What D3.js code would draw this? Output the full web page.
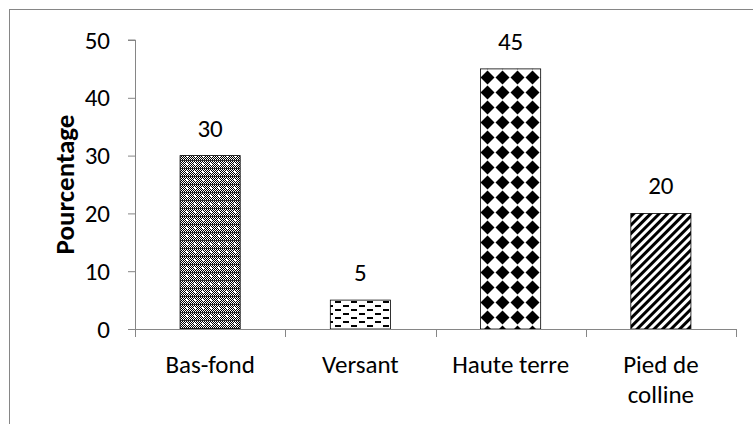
<!DOCTYPE html>
<html>
<head>
<meta charset="utf-8">
<script src="https://cdn.jsdelivr.net/npm/d3@7"></script>
<style>
  body { margin: 0; background: #fff; }
  svg text { font-family: Carlito, Lato, sans-serif; fill: #000; font-size: 25px; }
</style>
</head>
<body>
<svg id="chart"></svg>
<script>
var categories = ["Bas-fond", "Versant", "Haute terre", "Pied de colline"];
var values = [30, 5, 45, 20];
var yTicks = [0, 10, 20, 30, 40, 50];
var patterns = ["pGrid", "pDash", "pDiamond", "pStripe"];

var W = 753, H = 424;
var margin = {top: 40, right: 17, bottom: 95, left: 135};
var width = W - margin.left - margin.right;
var height = H - margin.top - margin.bottom;

var svg = d3.select("#chart").attr("width", W).attr("height", H);

// patterns
var defs = svg.append("defs");

// fine checker with white dots
var p1 = defs.append("pattern").attr("id", "pGrid").attr("patternUnits", "userSpaceOnUse")
    .attr("width", 8).attr("height", 8);
p1.append("rect").attr("width", 8).attr("height", 8).attr("fill", "#fff");
for (var i = 0; i < 8; i++) {
  for (var j = 0; j < 8; j++) {
    if ((i + j) % 2 == 0) p1.append("rect").attr("x", i).attr("y", j).attr("width", 1).attr("height", 1).attr("fill", "#000");
  }
}
p1.append("rect").attr("x", 0).attr("y", 0).attr("width", 8).attr("height", 1).attr("fill", "#333");
p1.append("rect").attr("x", 3).attr("y", 3).attr("width", 2).attr("height", 2).attr("fill", "#fff");

// dashed horizontal
var p2 = defs.append("pattern").attr("id", "pDash").attr("patternUnits", "userSpaceOnUse")
    .attr("width", 16).attr("height", 8);
p2.append("rect").attr("width", 16).attr("height", 8).attr("fill", "#fff");
p2.append("rect").attr("x", 0).attr("y", 1).attr("width", 6).attr("height", 2).attr("fill", "#000");
p2.append("rect").attr("x", 8).attr("y", 5).attr("width", 6).attr("height", 2).attr("fill", "#000");

// solid diamonds
var p3 = defs.append("pattern").attr("id", "pDiamond").attr("patternUnits", "userSpaceOnUse")
    .attr("width", 15).attr("height", 15);
p3.append("rect").attr("width", 15).attr("height", 15).attr("fill", "#fff");
p3.append("path").attr("d", "M7.5,0.5 L14.5,7.5 L7.5,14.5 L0.5,7.5 Z").attr("fill", "#000");

// wide upward diagonal
var p4 = defs.append("pattern").attr("id", "pStripe").attr("patternUnits", "userSpaceOnUse")
    .attr("width", 6).attr("height", 6).attr("patternTransform", "rotate(45)");
p4.append("rect").attr("width", 6).attr("height", 6).attr("fill", "#fff");
p4.append("rect").attr("width", 3).attr("height", 6).attr("fill", "#000");

// outer frame
svg.append("rect").attr("x", 9.5).attr("y", 9.5).attr("width", W).attr("height", H)
    .attr("fill", "none").attr("stroke", "#868686").attr("stroke-width", 1);

var g = svg.append("g").attr("transform", "translate(" + margin.left + "," + margin.top + ")");

var x = d3.scaleBand().domain(categories).range([0, width]).paddingInner(0.6).paddingOuter(0.3);
var xb = d3.scaleBand().domain(categories).range([0, width]);
var y = d3.scaleLinear().domain([0, 50]).range([height, 0]);

// bars
g.selectAll(".bar").data(values).enter().append("rect")
    .attr("x", function(d, i) { return x(categories[i]); })
    .attr("y", function(d) { return y(d); })
    .attr("width", x.bandwidth())
    .attr("height", function(d) { return height - y(d); })
    .attr("fill", function(d, i) { return "url(#" + patterns[i] + ")"; })
    .attr("stroke", "#000").attr("stroke-width", 0.8);

// value labels
g.selectAll(".lab").data(values).enter().append("text")
    .attr("x", function(d, i) { return x(categories[i]) + x.bandwidth() / 2; })
    .attr("y", function(d) { return y(d) - 19; })
    .attr("text-anchor", "middle")
    .text(function(d) { return d; });

// y axis
var yAxis = g.append("g").call(d3.axisLeft(y).tickValues(yTicks).tickSize(7).tickPadding(18));
yAxis.select(".domain").attr("stroke", "#868686").attr("d", "M0.5," + height + "V0H-7");
yAxis.selectAll(".tick line").attr("stroke", "#868686");
yAxis.selectAll(".tick text").attr("fill", "#000");

// x axis
var xg = g.append("g").attr("transform", "translate(0," + height + ")");
xg.append("line").attr("x1", 0).attr("x2", width).attr("y1", 0.5).attr("y2", 0.5).attr("stroke", "#868686");
var bounds = [0].concat(categories.map(function(c) { return xb(c) + xb.bandwidth(); }));
xg.selectAll(".xt").data(bounds).enter().append("line")
    .attr("x1", function(d) { return Math.round(d) + 0.5; })
    .attr("x2", function(d) { return Math.round(d) + 0.5; })
    .attr("y1", 0).attr("y2", 8).attr("stroke", "#868686");

var xlab = xg.selectAll(".xl").data(categories).enter().append("text")
    .attr("text-anchor", "middle")
    .attr("x", function(d) { return xb(d) + xb.bandwidth() / 2; })
    .attr("y", 44);
xlab.each(function(d) {
  var t = d3.select(this);
  var lines = d.length > 12 ? ["Pied de", "colline"] : [d];
  lines.forEach(function(l, k) {
    t.append("tspan").attr("x", xb(d) + xb.bandwidth() / 2).attr("dy", k == 0 ? 0 : 30).text(l);
  });
});

// y title
svg.append("text")
    .attr("transform", "translate(74," + (margin.top + height / 2) + ") rotate(-90)")
    .attr("text-anchor", "middle")
    .style("font-weight", "bold")
    .style("font-size", "27px")
    .text("Pourcentage");
</script>
</body>
</html>
